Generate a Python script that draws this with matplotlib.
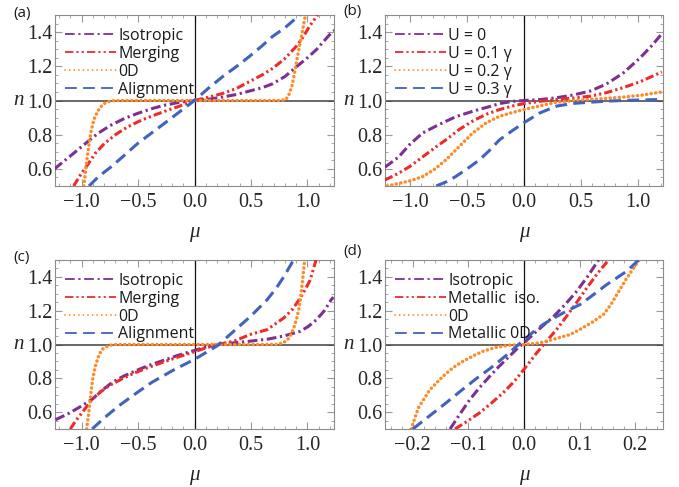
import matplotlib
matplotlib.use("Agg")
import matplotlib.pyplot as plt
from matplotlib.ticker import MultipleLocator, FuncFormatter
from matplotlib.transforms import blended_transform_factory

plt.rcParams['lines.scale_dashes'] = False
plt.rcParams['font.family'] = ['Liberation Serif', 'DejaVu Serif']

# ---- panel (a) ----
a_labels = ["Isotropic", "Merging", "0D", "Alignment"]
a_iso_mu = [-1.24, -1.1, -0.95, -0.85, -0.742, -0.62, -0.506, -0.38, -0.269, -0.13, 0.0,
            0.13, 0.248, 0.37, 0.485, 0.60, 0.692, 0.80, 0.90, 1.0, 1.077, 1.195, 1.24]
a_iso_n = [0.60, 0.675, 0.757, 0.81, 0.855, 0.895, 0.924, 0.952, 0.972, 0.99, 1.0,
           1.008, 1.02, 1.035, 1.055, 1.075, 1.098, 1.14, 1.196, 1.25, 1.296, 1.384, 1.41]
a_mer_mu = [-1.07, -1.0, -0.95, -0.88, -0.80, -0.70, -0.594, -0.47, -0.357, -0.25, -0.15, -0.06,
            0.0, 0.1, 0.248, 0.37, 0.485, 0.60, 0.692, 0.80, 0.90, 0.96, 1.018, 1.09]
a_mer_n = [0.50, 0.575, 0.62, 0.69, 0.747, 0.80, 0.845, 0.885, 0.914, 0.94, 0.963, 0.985,
           1.0, 1.015, 1.041, 1.07, 1.11, 1.15, 1.188, 1.245, 1.316, 1.37, 1.434, 1.50]
a_0d_mu = [-0.98, -0.965, -0.95, -0.93, -0.914, -0.89, -0.86, -0.83, -0.80, -0.75, -0.70, 0.0,
           0.75, 0.81, 0.84, 0.865, 0.885, 0.905, 0.923, 0.94, 0.958, 0.982]
a_0d_n = [0.50, 0.58, 0.669, 0.76, 0.825, 0.89, 0.933, 0.963, 0.982, 0.996, 1.0, 1.0,
          1.0, 1.005, 1.04, 1.09, 1.159, 1.23, 1.296, 1.355, 1.414, 1.50]
a_ali_mu = [-0.934, -0.85, -0.742, -0.62, -0.506, -0.38, -0.269, -0.14, 0.0, 0.12, 0.248,
            0.37, 0.485, 0.59, 0.692, 0.80, 0.90, 0.93]
a_ali_n = [0.50, 0.555, 0.61, 0.68, 0.747, 0.81, 0.865, 0.93, 1.0, 1.07, 1.139,
           1.198, 1.257, 1.315, 1.375, 1.425, 1.482, 1.50]

# ---- panel (b) ----
b_labels = ["U = 0", "U = 0.1 γ", "U = 0.2 γ", "U = 0.3 γ"]
b_u0_mu = [-1.22, -1.1, -1.0, -0.89, -0.744, -0.6, -0.45, -0.3, -0.215, -0.1, 0.0,
           0.15, 0.285, 0.43, 0.58, 0.72, 0.87, 1.02, 1.12, 1.21]
b_u0_n = [0.61, 0.67, 0.745, 0.81, 0.86, 0.905, 0.937, 0.965, 0.982, 0.995, 1.0,
          1.006, 1.016, 1.032, 1.055, 1.095, 1.16, 1.25, 1.32, 1.39]
b_u1_mu = [-1.22, -1.1, -1.0, -0.89, -0.78, -0.685, -0.57, -0.45, -0.33, -0.215, -0.1, 0.0,
           0.15, 0.285, 0.43, 0.58, 0.72, 0.87, 1.02, 1.12, 1.21]
b_u1_n = [0.535, 0.575, 0.615, 0.67, 0.725, 0.77, 0.83, 0.88, 0.92, 0.947, 0.968, 0.982,
          0.996, 1.006, 1.014, 1.025, 1.045, 1.075, 1.11, 1.14, 1.167]
b_u2_mu = [-1.20, -1.1, -1.0, -0.89, -0.78, -0.685, -0.57, -0.45, -0.33, -0.215, -0.1, 0.0,
           0.15, 0.285, 0.43, 0.58, 0.72, 0.87, 1.02, 1.21]
b_u2_n = [0.50, 0.515, 0.53, 0.555, 0.60, 0.653, 0.73, 0.81, 0.87, 0.908, 0.93, 0.947,
          0.97, 0.99, 0.999, 1.006, 1.012, 1.02, 1.03, 1.05]
b_u3_mu = [-0.77, -0.68, -0.6, -0.5, -0.39, -0.3, -0.215, -0.1, 0.0, 0.138, 0.285,
           0.43, 0.58, 0.72, 0.87, 1.02, 1.21]
b_u3_n = [0.50, 0.525, 0.555, 0.60, 0.653, 0.71, 0.77, 0.825, 0.87, 0.927, 0.967,
          0.983, 0.99, 0.996, 1.0, 1.003, 1.006]

# ---- panel (c) ----
c_labels = ["Isotropic", "Merging", "0D", "Alignment"]
c_iso_mu = [-1.23, -1.12, -1.023, -0.906, -0.82, -0.73, -0.63, -0.526, -0.41, -0.292, -0.15, 0.0,
            0.1, 0.205, 0.35, 0.497, 0.65, 0.79, 0.936, 1.01, 1.08, 1.15, 1.21, 1.23]
c_iso_n = [0.555, 0.59, 0.627, 0.676, 0.728, 0.775, 0.812, 0.843, 0.875, 0.902, 0.935, 0.965,
           0.985, 1.0, 1.01, 1.02, 1.032, 1.05, 1.078, 1.108, 1.147, 1.2, 1.265, 1.28]
c_mer_mu = [-1.10, -1.05, -0.994, -0.906, -0.83, -0.76, -0.64, -0.526, -0.41, -0.292, -0.15, 0.0,
            0.1, 0.205, 0.35, 0.497, 0.643, 0.79, 0.87, 0.936, 0.98, 1.023, 1.076]
c_mer_n = [0.50, 0.55, 0.598, 0.676, 0.72, 0.755, 0.797, 0.833, 0.864, 0.892, 0.925, 0.957,
           0.98, 1.0, 1.02, 1.06, 1.088, 1.157, 1.21, 1.275, 1.325, 1.38, 1.50]
c_0d_mu = [-0.955, -0.935, -0.92, -0.90, -0.877, -0.85, -0.82, -0.76, -0.70, 0.0,
           0.72, 0.78, 0.82, 0.848, 0.88, 0.906, 0.93, 0.944, 0.96, 0.975]
c_0d_n = [0.50, 0.60, 0.696, 0.80, 0.873, 0.93, 0.97, 0.994, 1.0, 1.0,
          1.0, 1.008, 1.025, 1.05, 1.10, 1.157, 1.23, 1.304, 1.40, 1.50]
c_ali_mu = [-0.906, -0.8, -0.67, -0.52, -0.38, -0.175, 0.0, 0.205, 0.35, 0.497, 0.643, 0.72, 0.79, 0.877]
c_ali_n = [0.50, 0.565, 0.637, 0.71, 0.775, 0.853, 0.912, 0.994, 1.08, 1.167, 1.265, 1.33, 1.40, 1.50]

# ---- panel (d) ----
d_labels = ["Isotropic", "Metallic  iso.", "0D", "Metallic 0D"]
d_iso_mu = [-0.133, -0.115, -0.097, -0.08, -0.061, -0.045, -0.026, -0.01, 0.0, 0.025, 0.053,
            0.075, 0.095, 0.115, 0.134]
d_iso_n = [0.50, 0.59, 0.676, 0.745, 0.814, 0.87, 0.931, 0.983, 1.01, 1.085, 1.165,
           1.24, 1.316, 1.405, 1.50]
d_met_mu = [-0.124, -0.10, -0.079, -0.058, -0.037, -0.018, 0.0, 0.023, 0.038, 0.059, 0.075,
            0.095, 0.113, 0.132, 0.152]
d_met_n = [0.50, 0.55, 0.598, 0.655, 0.716, 0.78, 0.853, 0.951, 1.01, 1.09, 1.16,
           1.25, 1.335, 1.42, 1.50]
d_0d_mu = [-0.203, -0.19, -0.17, -0.145, -0.128, -0.11, -0.09, -0.073, -0.05, -0.026, 0.0, 0.029,
           0.053, 0.083, 0.101, 0.122, 0.143, 0.156, 0.167, 0.185, 0.203, 0.207]
d_0d_n = [0.50, 0.625, 0.73, 0.814, 0.862, 0.90, 0.935, 0.961, 0.983, 0.996, 1.0, 1.01,
          1.031, 1.059, 1.09, 1.13, 1.178, 1.235, 1.296, 1.394, 1.48, 1.50]
d_m0d_mu = [-0.20, -0.169, -0.14, -0.112, -0.085, -0.061, -0.034, -0.008, 0.017, 0.035, 0.053,
            0.075, 0.101, 0.125, 0.149, 0.185, 0.206]
d_m0d_n = [0.50, 0.58, 0.655, 0.73, 0.80, 0.858, 0.93, 1.005, 1.075, 1.12, 1.155,
           1.195, 1.237, 1.295, 1.355, 1.434, 1.50]

purple = '#7e2f92'
red = '#ee2a2a'
orange = '#ff8a26'
blue = '#4162be'

styles = [
    dict(color=purple, lw=2.2, dashes=(7, 2.6, 1.6, 2.6)),
    dict(color=red, lw=2.2, dashes=(6, 2.2, 1.6, 2.2, 1.6, 2.2)),
    dict(color=orange, lw=2.5, dashes=(0.1, 3.2), dash_capstyle='round'),
    dict(color=blue, lw=2.2, dashes=(8.5, 4.5)),
]

sans = 'Open Sans'
txt = '#262626'


def one_decimal(v, pos):
    s = '%.1f' % (0.0 if abs(v) < 1e-9 else v)
    return s.replace('-', '\u2212')


def draw_panel(ax, curves, labels, xlim, xmajor, xminor):
    for (mu, n), lab, st in zip(curves, labels, styles):
        ax.plot(mu, n, label=lab, zorder=3, **st)
    ax.axhline(1.0, color='#404040', lw=1.1, zorder=2)
    ax.axvline(0.0, color='#111111', lw=0.9, zorder=2)
    ax.set_xlim(*xlim)
    ax.set_ylim(0.5, 1.5)
    ax.xaxis.set_major_locator(MultipleLocator(xmajor))
    ax.xaxis.set_minor_locator(MultipleLocator(xminor))
    ax.yaxis.set_minor_locator(MultipleLocator(0.05))
    ax.set_yticks([0.6, 0.8, 1.0, 1.2, 1.4])
    ax.xaxis.set_major_formatter(FuncFormatter(one_decimal))
    ax.yaxis.set_major_formatter(FuncFormatter(one_decimal))
    ax.tick_params(which='both', direction='in', top=True, right=True, color='#999999',
                   labelsize=14.5, labelcolor=txt)
    ax.tick_params(which='major', length=5, width=0.8)
    ax.tick_params(which='minor', length=2.5, width=0.6)
    ax.tick_params(axis='x', pad=5)
    ax.tick_params(axis='y', pad=2)
    for sp in ax.spines.values():
        sp.set_color('#8c8c8c')
        sp.set_linewidth(0.8)
    ax.set_xlabel('μ', style='italic', fontsize=15, color=txt, labelpad=8)
    tr = blended_transform_factory(ax.transAxes, ax.transData)
    ax.text(-0.13, 1.0, 'n', transform=tr, style='italic',
            fontsize=15, color=txt, ha='center', va='center')
    leg = ax.legend(loc='upper left', bbox_to_anchor=(0.036, 0.925), frameon=False,
                    handlelength=3.2, handletextpad=0.12, labelspacing=0.12,
                    borderaxespad=0, borderpad=0, prop={'family': sans, 'size': 11.5})
    for h in leg.get_lines():
        h.set_linewidth(1.3)
    for t in leg.get_texts():
        t.set_color('#1a1a1a')


fig = plt.figure(figsize=(6.79, 4.87), dpi=100)
W, H = 679, 487
ax_a = fig.add_axes([55 / W, 1 - 186 / H, 279 / W, 171 / H])
ax_b = fig.add_axes([385 / W, 1 - 186 / H, 278 / W, 171 / H])
ax_c = fig.add_axes([55 / W, 1 - 429 / H, 279 / W, 169 / H])
ax_d = fig.add_axes([385 / W, 1 - 429 / H, 278 / W, 169 / H])

draw_panel(ax_a, [(a_iso_mu, a_iso_n), (a_mer_mu, a_mer_n), (a_0d_mu, a_0d_n), (a_ali_mu, a_ali_n)],
           a_labels, (-1.235, 1.235), 0.5, 0.1)
draw_panel(ax_b, [(b_u0_mu, b_u0_n), (b_u1_mu, b_u1_n), (b_u2_mu, b_u2_n), (b_u3_mu, b_u3_n)],
           b_labels, (-1.22, 1.22), 0.5, 0.1)
draw_panel(ax_c, [(c_iso_mu, c_iso_n), (c_mer_mu, c_mer_n), (c_0d_mu, c_0d_n), (c_ali_mu, c_ali_n)],
           c_labels, (-1.235, 1.235), 0.5, 0.1)
draw_panel(ax_d, [(d_iso_mu, d_iso_n), (d_met_mu, d_met_n), (d_0d_mu, d_0d_n), (d_m0d_mu, d_m0d_n)],
           d_labels, (-0.25, 0.25), 0.1, 0.02)

for tag, x, y in [('(a)', 13, 14), ('(b)', 343, 12), ('(c)', 13, 257), ('(d)', 343, 252)]:
    fig.text(x / W, 1 - y / H, tag, family=sans, fontsize=11, color='#1a1a1a',
             ha='left', va='center')

fig.savefig('out.png', dpi=100)
